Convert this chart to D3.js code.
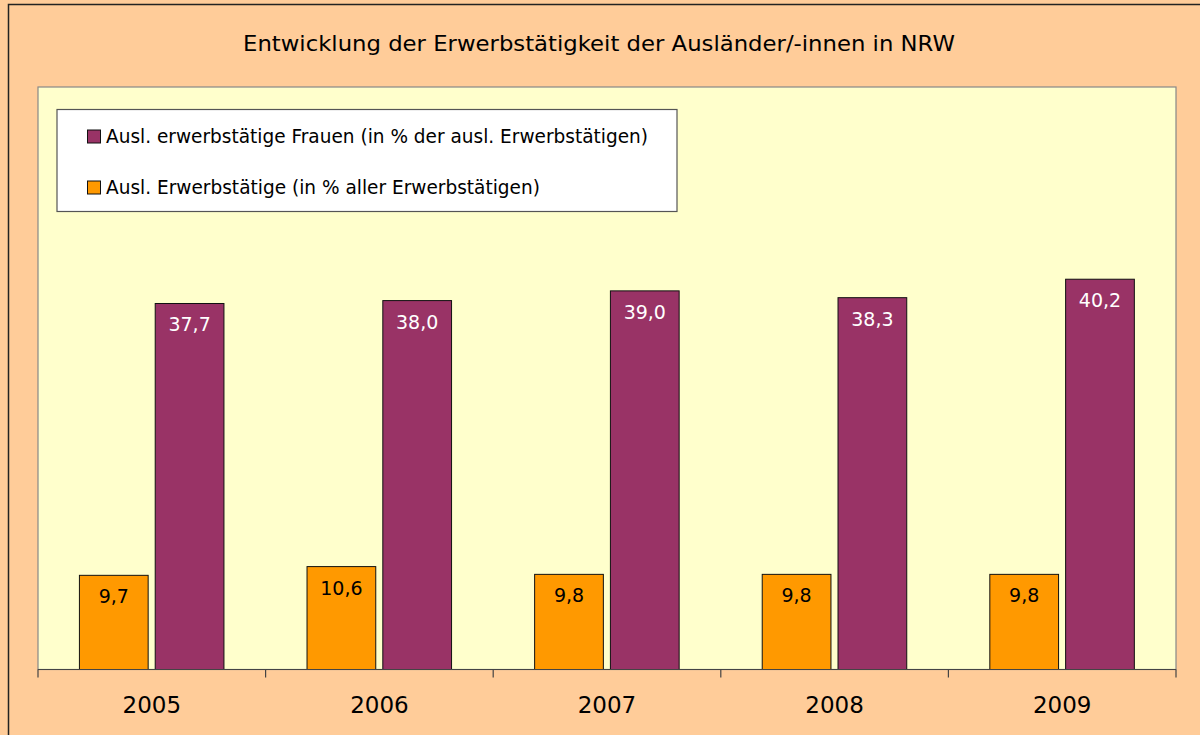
<!DOCTYPE html>
<html>
<head>
<meta charset="utf-8">
<script src="https://cdn.jsdelivr.net/npm/d3@7"></script>
<style>
  body { margin: 0; background: #ffcc99; }
  svg { display: block; font-family: "DejaVu Sans", sans-serif; }
</style>
</head>
<body>
<div id="chart"></div>
<script>
// Data
const years = ['2005', '2006', '2007', '2008', '2009'];
const auslaender = [9.7, 10.6, 9.8, 9.8, 9.8];
const frauen = [37.7, 38.0, 39.0, 38.3, 40.2];
const seriesNames = [
  'Ausl. erwerbstätige Frauen (in % der ausl. Erwerbstätigen)',
  'Ausl. Erwerbstätige (in % aller Erwerbstätigen)'
];

const width = 1200;
const height = 735;
const plot = { left: 38, top: 87, right: 1176, bottom: 669.5 };

const svg = d3.select('#chart').append('svg')
  .attr('width', width)
  .attr('height', height);

// Outer chart area
svg.append('rect')
  .attr('x', 8.5).attr('y', 4.5)
  .attr('width', 1200).attr('height', 760)
  .attr('fill', '#ffcc99')
  .attr('stroke', '#222').attr('stroke-width', 1.5);

// Plot area
svg.append('rect')
  .attr('x', plot.left).attr('y', plot.top)
  .attr('width', plot.right - plot.left)
  .attr('height', plot.bottom - plot.top)
  .attr('fill', '#ffffcc')
  .attr('stroke', '#888').attr('stroke-width', 1.2);

// Title
svg.append('text')
  .attr('x', 243).attr('y', 51)
  .attr('font-size', 21)
  .attr('textLength', 712)
  .attr('lengthAdjust', 'spacingAndGlyphs')
  .attr('fill', '#000')
  .text('Entwicklung der Erwerbstätigkeit der Ausländer/-innen in NRW');

// Scales
const x = d3.scaleBand()
  .domain(years)
  .range([plot.left, plot.right]);

const y = d3.scaleLinear()
  .domain([0, 60])
  .range([plot.bottom, plot.top]);

const barW = x.bandwidth() * 0.302;
const barGap = x.bandwidth() * 0.031;
const offset = x.bandwidth() * 0.182;

const rows = years.map((yr, i) => ({ year: yr, a: auslaender[i], f: frauen[i] }));
const fmt = v => d3.format('.1f')(v).replace('.', ',');

// Orange bars
svg.append('g').selectAll('rect')
  .data(rows)
  .join('rect')
  .attr('x', d => x(d.year) + offset)
  .attr('y', d => y(d.a))
  .attr('width', barW)
  .attr('height', d => y(0) - y(d.a))
  .attr('fill', '#ff9900')
  .attr('stroke', '#111').attr('stroke-width', 1);

// Purple bars
svg.append('g').selectAll('rect')
  .data(rows)
  .join('rect')
  .attr('x', d => x(d.year) + offset + barW + barGap)
  .attr('y', d => y(d.f))
  .attr('width', barW)
  .attr('height', d => y(0) - y(d.f))
  .attr('fill', '#993366')
  .attr('stroke', '#111').attr('stroke-width', 1);

// Value labels
svg.append('g').selectAll('text')
  .data(rows)
  .join('text')
  .attr('x', d => x(d.year) + offset + barW / 2)
  .attr('y', d => y(d.a) + 28)
  .attr('text-anchor', 'middle')
  .attr('font-size', 19)
  .attr('fill', '#000')
  .text(d => fmt(d.a));

svg.append('g').selectAll('text')
  .data(rows)
  .join('text')
  .attr('x', d => x(d.year) + offset + barW * 1.5 + barGap)
  .attr('y', d => y(d.f) + 28)
  .attr('text-anchor', 'middle')
  .attr('font-size', 19)
  .attr('fill', '#fff')
  .text(d => fmt(d.f));

// X axis
const xAxis = svg.append('g')
  .attr('transform', `translate(0,${plot.bottom})`);

xAxis.append('line')
  .attr('x1', plot.left).attr('x2', plot.right)
  .attr('stroke', '#444').attr('stroke-width', 1.2);

const tickXs = years.map(yr => x(yr)).concat([plot.right]);
xAxis.selectAll('.tick')
  .data(tickXs)
  .join('line')
  .attr('x1', d => d).attr('x2', d => d)
  .attr('y1', 0).attr('y2', 8)
  .attr('stroke', '#444').attr('stroke-width', 1.2);

xAxis.selectAll('text')
  .data(years)
  .join('text')
  .attr('x', d => x(d) + x.bandwidth() / 2)
  .attr('y', 43.5)
  .attr('text-anchor', 'middle')
  .attr('font-size', 23)
  .attr('fill', '#000')
  .text(d => d);

// Legend
const legend = svg.append('g');
legend.append('rect')
  .attr('x', 57).attr('y', 109.5)
  .attr('width', 620).attr('height', 102)
  .attr('fill', '#fff')
  .attr('stroke', '#555').attr('stroke-width', 1.2);

const legendColors = ['#993366', '#ff9900'];
const legendLengths = [542, 434];
seriesNames.forEach((name, i) => {
  const ly = 143.3 + i * 51;
  legend.append('rect')
    .attr('x', 87.5).attr('y', ly - 13.3)
    .attr('width', 13).attr('height', 13)
    .attr('fill', legendColors[i])
    .attr('stroke', '#111').attr('stroke-width', 1);
  legend.append('text')
    .attr('x', 106).attr('y', ly)
    .attr('font-size', 19)
    .attr('textLength', legendLengths[i])
    .attr('lengthAdjust', 'spacingAndGlyphs')
    .attr('fill', '#000')
    .text(name);
});
</script>
</body>
</html>
